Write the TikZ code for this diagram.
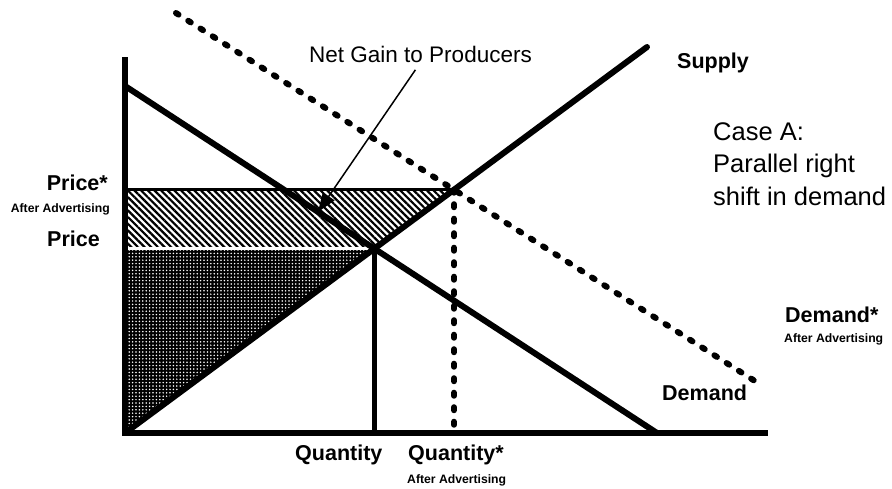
\documentclass[tikz,border=0pt]{standalone}
\usepackage{fontspec}
\setmainfont{Liberation Sans}
\usetikzlibrary{patterns.meta,arrows.meta}

\tikzset{
  curve/.style={line width=6pt},
  dotline/.style={line width=6pt, line cap=round, dash pattern=on 3pt off 11.5pt},
  plain/.style={font=\fontsize{22.5}{26}\selectfont, inner sep=0pt},
  boldlab/.style={font=\fontsize{21.5}{26}\selectfont\bfseries, inner sep=0pt},
  smalllab/.style={font=\fontsize{12.2}{14}\selectfont\bfseries, inner sep=0pt},
}

\begin{document}
\begin{tikzpicture}[x=1pt, y=-1pt]

\useasboundingbox (0,0) rectangle (892,488);

% 坐标
\coordinate (O) at (125,433);
\coordinate (ytop) at (125,57);
\coordinate (xend) at (768,433);
\coordinate (D1) at (125,86);
\coordinate (D2) at (657,433);
\coordinate (S1) at (125,433);
\coordinate (S2) at (647,47);
\coordinate (T1) at (176,13);
\coordinate (T2) at (758,383);
\coordinate (E) at (intersection of D1--D2 and S1--S2);
\coordinate (Es) at (intersection of T1--T2 and S1--S2);
\coordinate (tip) at (318,212);

% 阴影区域
\fill[black] (O |- E) -- (E) -- (O) -- cycle;
\fill[pattern={Dots[distance=3.4pt, radius=0.85pt]}, pattern color=white] (O |- E) -- (E) -- (O) -- cycle;
\fill[pattern={Lines[angle=-45, distance=4.7pt, line width=2.2pt]}] (O |- Es) -- (Es) -- (E) -- (O |- E) -- cycle;
\draw[white, line width=3pt] (O |- E) -- (E);

% 价格线和数量线
\draw[line width=3.5pt] (O |- Es) -- (Es);
\draw[line width=4.5pt] (E) -- (E |- O);
\draw[dotline] (Es) -- (Es |- O);

% 需求和供给曲线
\draw[curve] (D1) -- (D2);
\draw[curve, line cap=round] (S1) -- (S2);
\draw[dotline] (T1) -- (T2);

% 坐标轴
\draw[line width=6.5pt] (ytop) -- (O) -- (xend);

% 文字
\node[plain, anchor=base west] (gain) at (309,62) {Net Gain to Producers};
\draw[line width=1.5pt, -{Triangle[length=19pt, width=14pt]}, shorten <=9pt] (gain.south) -- (tip);

\node[boldlab, anchor=base west] (supply) at (677,68) {Supply};
\node[plain, font=\fontsize{25.5}{32.5}\selectfont, anchor=base west, align=left] (caseA) at (713,205)
  {Case A:\\Parallel right\\shift in demand};

\node[boldlab, anchor=base east] (pstar) at (108,190) {Price*};
\node[smalllab, anchor=base east] (pstarafter) at (110,212) {After Advertising};
\node[boldlab, anchor=base east] (price) at (100,246) {Price};

\node[boldlab, anchor=base west] (qty) at (295,460) {Quantity};
\node[boldlab, anchor=base west] (qstar) at (408,460) {Quantity*};
\node[smalllab, anchor=base west] (qstarafter) at (407,483) {After Advertising};

\node[boldlab, anchor=base west] (dstar) at (785,322) {Demand*};
\node[smalllab, anchor=base west] (dstarafter) at (784,342) {After Advertising};
\node[boldlab, anchor=base west] (demand) at (662,400) {Demand};

\end{tikzpicture}
\end{document}
